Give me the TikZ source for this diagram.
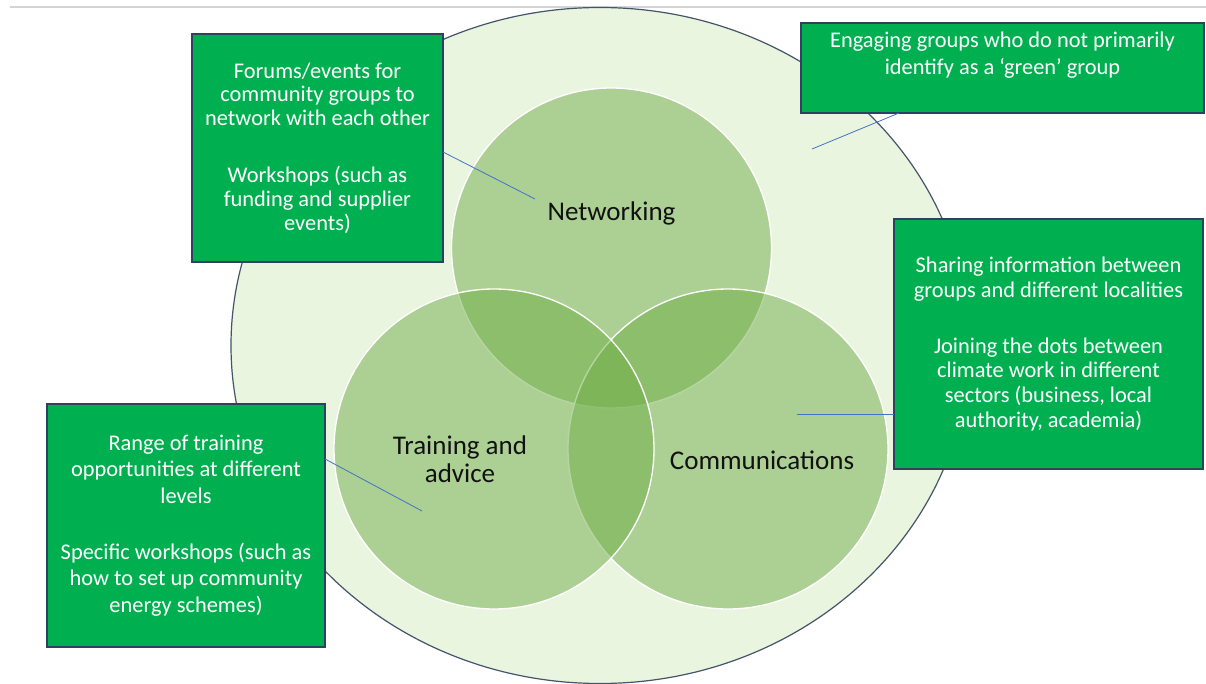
\documentclass[tikz,border=0pt]{standalone}
\usepackage{fontspec}
\setmainfont{Carlito}
\usetikzlibrary{calc}
\definecolor{boxgreen}{HTML}{00B050}
\definecolor{boxedge}{HTML}{2F4060}
\definecolor{ellfill}{HTML}{EAF5E0}
\definecolor{elledge}{HTML}{44546A}
\definecolor{circfill}{HTML}{70AD47}
\definecolor{linkblue}{HTML}{4472C4}
\definecolor{rulegray}{HTML}{D4D4D4}
\definecolor{labelink}{HTML}{111111}
\begin{document}
\begin{tikzpicture}[x=0.75pt,y=-0.75pt,
  infobox/.style={draw=boxedge, line width=1.1pt, fill=boxgreen, text=white, align=center, inner sep=0pt, outer sep=0pt},
  venn/.style={circle, draw=white, line width=1pt, fill=circfill, fill opacity=0.5, draw opacity=1, text opacity=1, minimum size=240pt, inner sep=0pt, outer sep=0pt},
  vlabel/.style={text=labelink, align=center, inner sep=0pt, font=\fontsize{20.25pt}{21pt}\selectfont},
  link/.style={draw=linkblue, line width=0.6pt}]
\useasboundingbox (0,0) rectangle (1206,684);
\fill[white] (0,0) rectangle (1206,684);
% top rule
\coordinate (r1) at (10,7);
\coordinate (r2) at (1206,7);
\draw[rulegray, line width=0.9pt] (r1) -- (r2);
% big ellipse
\draw[elledge, fill=ellfill, line width=0.9pt] (600,345.5) ellipse [x radius=369, y radius=338];
% venn circles
\node[venn] (net) at (611.5,248) {};
\node[venn] (com) at (728,449) {};
\node[venn] (tra) at (494,449) {};
% connector free ends
\coordinate (n1) at (535,199);
\coordinate (n2) at (812,149);
\coordinate (n3) at (797,414);
\coordinate (n4) at (422,511);
% boxes
\node[infobox, minimum width=188.25pt, minimum height=171pt,
      font=\fontsize{16.8pt}{17.8pt}\selectfont] (b1) at (317.5,148)
  {Forums/events for\\community groups to\\network with each other\\[25pt]Workshops (such as\\funding and supplier\\events)};
\node[infobox, minimum width=302.25pt, minimum height=67.5pt] (b2) at (1002.5,68) {};
\node[text=white, align=center, inner sep=0pt, font=\fontsize{16.8pt}{20.25pt}\selectfont] (t2) at (1002.5,55.5)
  {Engaging groups who do not primarily\\identify as a ‘green’ group};
\node[infobox, minimum width=231.75pt, minimum height=187.5pt,
      font=\fontsize{16.8pt}{18.4pt}\selectfont] (b3) at (1048.5,344)
  {Sharing information between\\groups and different localities\\[23.6pt]Joining the dots between\\climate work in different\\sectors (business, local\\authority, academia)};
\node[infobox, minimum width=208.5pt, minimum height=182.25pt,
      font=\fontsize{16.8pt}{19.9pt}\selectfont] (b4) at (186,525.5)
  {Range of training\\opportunities at different\\levels\\[22pt]Specific workshops (such as\\how to set up community\\energy schemes)};
% connectors
\draw[link] ([yshift=-3pt]b1.east) -- (n1);
\draw[link] ([xshift=-77.6pt]b2.south) -- (n2);
\draw[link] ([yshift=-52.5pt]b3.west) -- (n3);
\draw[link] ([yshift=49.9pt]b4.east) -- (n4);
% circle labels
\node[vlabel] (lnet) at (611.5,213) {Networking};
\node[vlabel] (ltra) at (460,459) {Training and\\advice};
\node[vlabel] (lcom) at (762,460) {Communications};
\end{tikzpicture}
\end{document}
